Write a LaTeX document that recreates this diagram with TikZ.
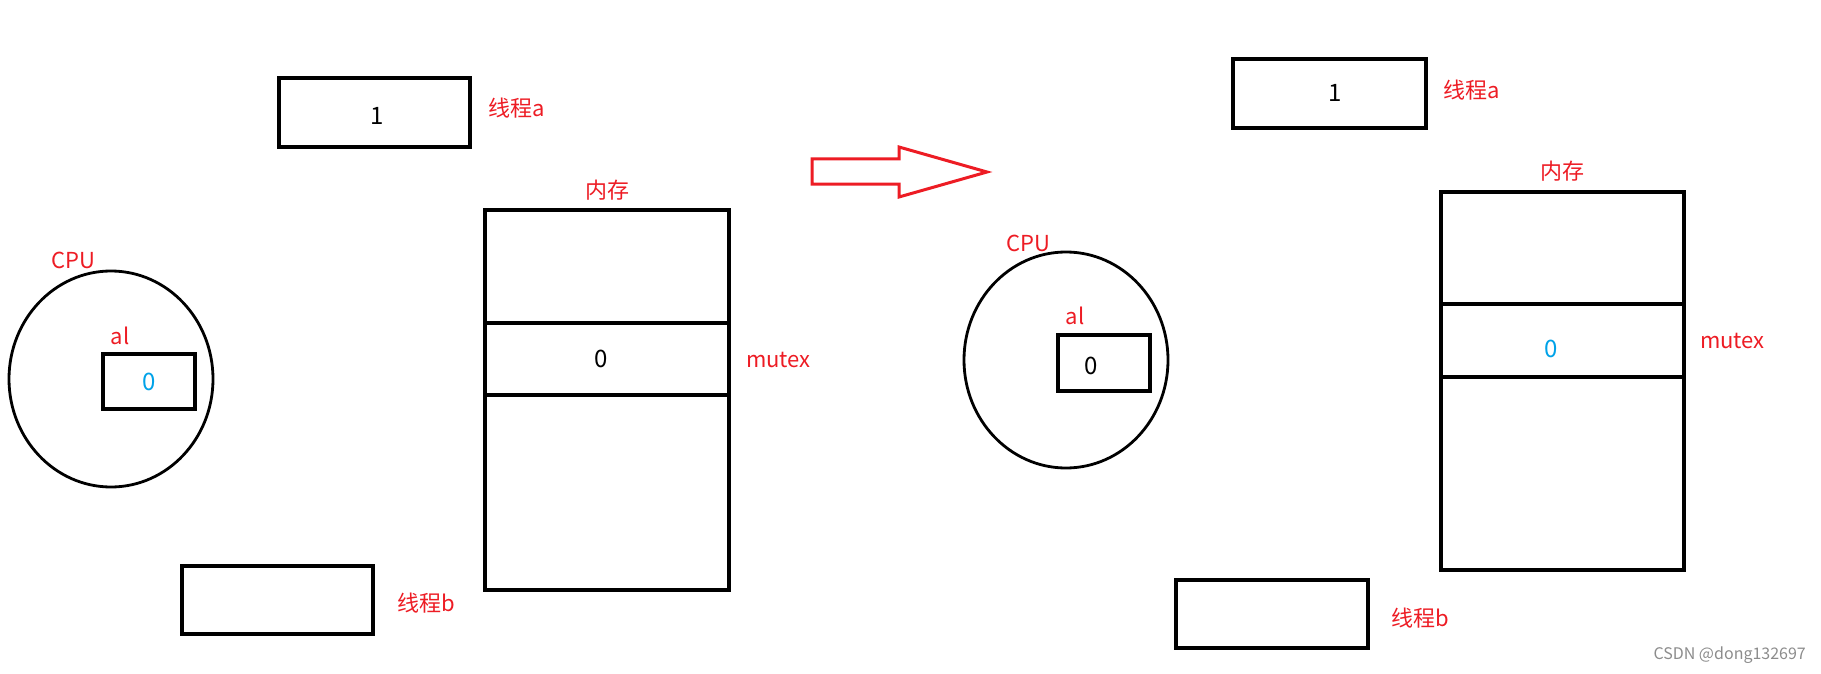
\documentclass[tikz,border=0pt]{standalone}
\usepackage{fontspec}
\newfontfamily\cjk{Noto Sans CJK SC}
\usetikzlibrary{shapes.geometric}
\definecolor{lred}{RGB}{237,28,36}
\definecolor{lblue}{RGB}{0,162,232}
\tikzset{
  box/.style={draw=black, line width=3.2pt, rectangle, inner sep=0pt, font=\cjk\fontsize{22}{26}\selectfont},
  cpubox/.style={draw=black, line width=2.8pt, ellipse, inner sep=0pt, minimum width=204pt, minimum height=216pt},
  lab/.style={text=lred, inner sep=0pt, font=\cjk\fontsize{22}{26}\selectfont},
  num/.style={inner sep=0pt, font=\cjk\fontsize{24}{28}\selectfont},
}
\begin{document}
\begin{tikzpicture}[x=1pt,y=-1pt]
\useasboundingbox (0,0) rectangle (1821,674);
% ---------- left state ----------
\node[box, minimum width=191pt, minimum height=69pt] (ta1) at (374.5,112.5) {};
\node[num] (ta1v) at (377,116) {1};
\node[lab, anchor=west] (ta1l) at (488,108) {线程a};
\node[box, minimum width=244pt, minimum height=380pt] (mem1) at (607,400) {};
\node[box, minimum width=244pt, minimum height=72pt] (mut1) at (607,359) {};
\node[num] (mut1v) at (601,359) {0};
\node[lab] (mem1l) at (607,190) {内存};
\node[lab, anchor=west] (mut1l) at (746,360) {mutex};
\node[cpubox] (cpu1) at (111,379) {};
\node[lab] (cpu1l) at (73,260) {CPU};
\node[box, minimum width=92pt, minimum height=55pt] (al1) at (149,381.5) {};
\node[num, text=lblue] (al1v) at (149,382) {0};
\node[lab] (al1l) at (120,336) {al};
\node[box, minimum width=191pt, minimum height=68pt] (tb1) at (277.5,600) {};
\node[lab, anchor=west] (tb1l) at (397,603) {线程b};
% ---------- arrow ----------
\draw[lred, line width=3pt, line join=miter]
  (812,159) -- (899,159) -- (899,147) -- (987,172) -- (899,197) -- (899,184) -- (812,184) -- cycle;
% ---------- right state ----------
\node[box, minimum width=193pt, minimum height=69pt] (ta2) at (1329.5,93.5) {};
\node[num] (ta2v) at (1335,93) {1};
\node[lab, anchor=west] (ta2l) at (1443,90) {线程a};
\node[box, minimum width=243pt, minimum height=378pt] (mem2) at (1562.5,381) {};
\node[box, minimum width=243pt, minimum height=73pt] (mut2) at (1562.5,340.5) {};
\node[num, text=lblue] (mut2v) at (1551,349) {0};
\node[lab] (mem2l) at (1562,171) {内存};
\node[lab, anchor=west] (mut2l) at (1700,341) {mutex};
\node[cpubox] (cpu2) at (1066,360) {};
\node[lab] (cpu2l) at (1028,243) {CPU};
\node[box, minimum width=92pt, minimum height=56pt] (al2) at (1104,363) {};
\node[num] (al2v) at (1091,366) {0};
\node[lab] (al2l) at (1075,316) {al};
\node[box, minimum width=192pt, minimum height=68pt] (tb2) at (1272,614) {};
\node[lab, anchor=west] (tb2l) at (1391,618) {线程b};
% ---------- watermark ----------
\node[text=black!45, inner sep=0pt, anchor=east, font=\cjk\fontsize{16}{18}\selectfont] (wm) at (1806,655) {CSDN @dong132697};
\end{tikzpicture}
\end{document}
